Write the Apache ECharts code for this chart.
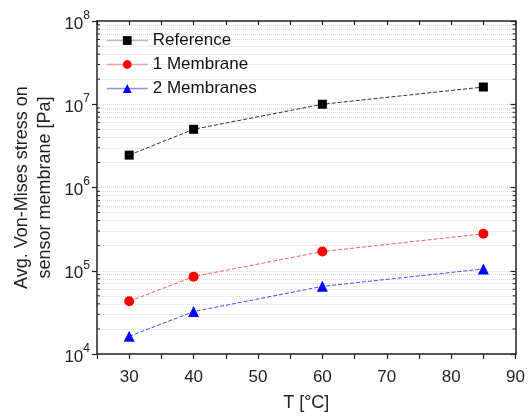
<!DOCTYPE html>
<html>
<head>
<meta charset="utf-8">
<script src="https://cdn.jsdelivr.net/npm/echarts@6/dist/echarts.min.js"></script>
<style>
body { margin: 0; padding: 0; background: #fff; }
#chart { width: 528px; height: 417px; }
</style>
</head>
<body>
<div id="chart"></div>
<script>
// data
const temps = [30, 40, 60, 85]
const reference = [2.45e6, 5.0e6, 1.0e7, 1.61e7]
const oneMembrane = [4.3e4, 8.5e4, 1.7e5, 2.78e5]
const twoMembranes = [1.63e4, 3.23e4, 6.5e4, 1.05e5]
const seriesNames = ['Reference', '1 Membrane', '2 Membranes']
const decades = [1e4, 1e5, 1e6, 1e7, 1e8]
const minorMult = [2, 3, 4, 5, 6, 7, 8, 9]

const xMin = 25, xMax = 90
const minorVals = []
decades.slice(0, -1).forEach(d => minorMult.forEach(m => minorVals.push(d * m)))
const gridVals = minorVals.concat(decades.slice(1, -1))

const font = 'Liberation Sans, Arial, sans-serif'

const chart = echarts.init(document.getElementById('chart'))

const pair = vals => temps.map((t, i) => [t, vals[i]])

chart.setOption({
  backgroundColor: '#fff',
  animation: false,
  textStyle: { fontFamily: font },
  grid: { left: 97, right: 12, top: 21, bottom: 58 },
  legend: {
    orient: 'vertical',
    left: 106,
    top: 32,
    padding: 0,
    itemGap: 7,
    itemWidth: 41,
    itemHeight: 11,
    textStyle: { fontSize: 17, color: '#111', fontFamily: font },
    data: [
      { name: seriesNames[0], lineStyle: { color: '#bbbbbb', type: 'solid', width: 1.5 } },
      { name: seriesNames[1], lineStyle: { color: '#f4a0a0', type: 'solid', width: 1.5 } },
      { name: seriesNames[2], lineStyle: { color: '#8f8ff0', type: 'solid', width: 1.5 } }
    ]
  },
  xAxis: [
    {
      type: 'value', min: xMin, max: xMax, interval: 5,
      name: 'T [°C]', nameLocation: 'middle', nameGap: 40, nameMoveOverlap: false,
      nameTextStyle: { fontSize: 18, color: '#222' },
      axisLine: { lineStyle: { color: '#222', width: 1.5 } },
      axisTick: { length: 5, lineStyle: { color: '#222', width: 1.2 } },
      axisLabel: {
        fontSize: 17, color: '#222', margin: 15,
        formatter: v => (v % 10 === 0 ? String(v) : '')
      },
      splitLine: { show: false }
    },
    {
      type: 'value', min: xMin, max: xMax, interval: 5, position: 'top',
      axisLine: { lineStyle: { color: '#222', width: 1.5 } },
      axisTick: { inside: true, length: 4, lineStyle: { color: '#222', width: 1.2 } },
      axisLabel: { show: false },
      splitLine: { show: false }
    }
  ],
  yAxis: [
    {
      type: 'log', logBase: 10, min: 1e4, max: 1e8,
      name: 'Avg. Von-Mises stress on\nsensor membrane [Pa]',
      nameLocation: 'middle', nameGap: 40, nameMoveOverlap: false,
      nameTextStyle: { fontSize: 18, color: '#222', lineHeight: 23 },
      axisLine: { lineStyle: { color: '#222', width: 1.5 } },
      axisTick: { length: 5, lineStyle: { color: '#222', width: 1.2 } },
      axisLabel: {
        color: '#222', margin: 7,
        formatter: v => '{b|10}{s|' + Math.round(Math.log10(v)) + '}',
        rich: {
          b: { fontSize: 17, color: '#222', fontFamily: font, padding: [6, 0, 0, 0] },
          s: { fontSize: 12, color: '#222', fontFamily: font, verticalAlign: 'top', padding: [0, 0, 8, 0] }
        }
      },
      splitLine: { show: false }
    },
    {
      type: 'log', logBase: 10, min: 1e4, max: 1e8, position: 'right',
      axisLine: { lineStyle: { color: '#222', width: 1.5 } },
      axisTick: { inside: true, length: 5, lineStyle: { color: '#222', width: 1.2 } },
      axisLabel: { show: false },
      splitLine: { show: false }
    }
  ],
  series: [
    {
      // dotted grid lines at the decades and 2..9 steps
      type: 'line', data: [], silent: true, z: 0,
      markLine: {
        silent: true, symbol: 'none', label: { show: false }, z: 0,
        lineStyle: { color: '#dadada', type: 'dotted', width: 1 },
        data: gridVals.map(v => ({ yAxis: v }))
      }
    },
    {
      // minor log ticks on left and right frame
      type: 'custom', silent: true,
      data: minorVals.map(v => [xMin, v]),
      renderItem: (params, api) => {
        const l = api.coord([xMin, api.value(1)])
        const r = api.coord([xMax, api.value(1)])
        const st = { stroke: '#222', lineWidth: 1 }
        return {
          type: 'group',
          children: [
            { type: 'line', shape: { x1: l[0], y1: l[1], x2: l[0] + 3, y2: l[1] }, style: st },
            { type: 'line', shape: { x1: r[0], y1: r[1], x2: r[0] - 3, y2: r[1] }, style: st }
          ]
        }
      }
    },
    {
      name: seriesNames[0], type: 'line', data: pair(reference), z: 3,
      symbol: 'rect', symbolSize: 9,
      itemStyle: { color: '#000', borderWidth: 0, opacity: 1 },
      lineStyle: { color: '#333', width: 1, type: [4, 2] }
    },
    {
      name: seriesNames[1], type: 'line', data: pair(oneMembrane), z: 3,
      symbol: 'circle', symbolSize: 10,
      itemStyle: { color: '#ff0000', borderWidth: 0, opacity: 1 },
      lineStyle: { color: '#f06060', width: 1, type: [4, 2] }
    },
    {
      name: seriesNames[2], type: 'line', data: pair(twoMembranes), z: 3,
      symbol: 'triangle', symbolSize: 11,
      itemStyle: { color: '#0000ff', borderWidth: 0, opacity: 1 },
      lineStyle: { color: '#4a4aee', width: 1, type: [4, 2] }
    }
  ]
})
</script>
</body>
</html>
